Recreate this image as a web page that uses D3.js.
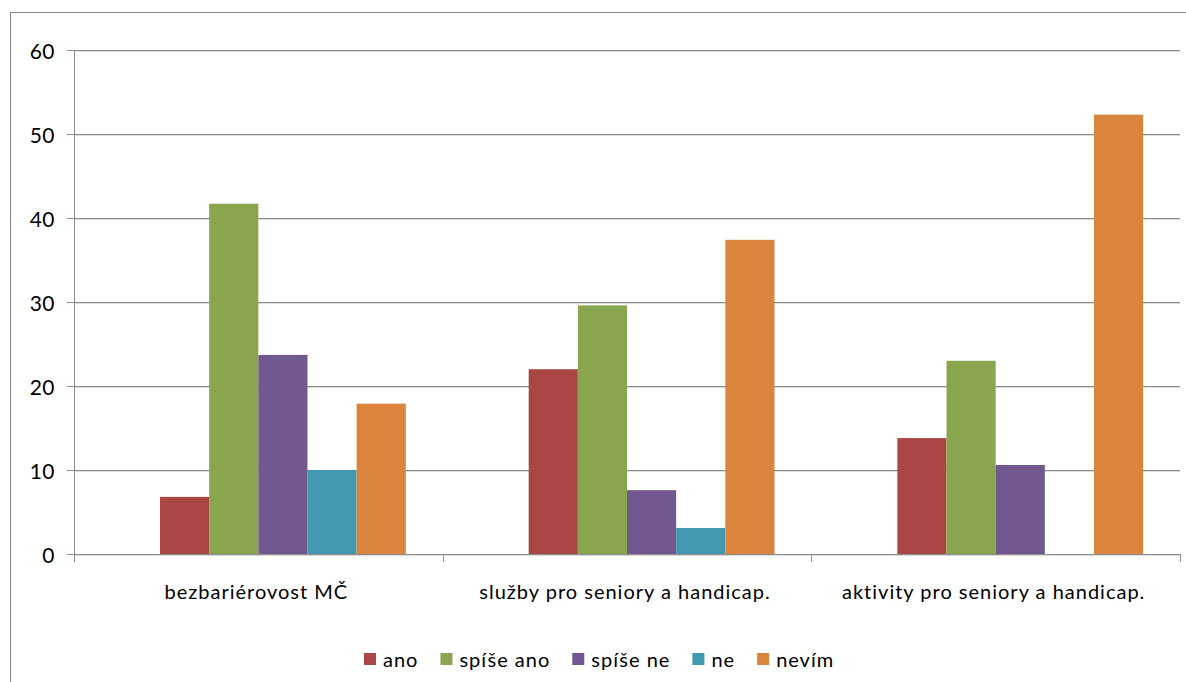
<!DOCTYPE html>
<html>
<head>
<meta charset="utf-8">
<script src="https://cdn.jsdelivr.net/npm/d3@7"></script>
<style>
  html, body { margin: 0; padding: 0; background: #fff; }
  svg { display: block; }
  text { font-family: Lato, "Open Sans", sans-serif; fill: #000; }
</style>
</head>
<body>
<svg id="chart" width="1186" height="682"></svg>
<script>
// ---- data ----
const categories = ["bezbariérovost MČ", "služby pro seniory a handicap.", "aktivity pro seniory a handicap."];
// the source chart reserves a first (empty) series slot in each group
const seriesNames = ["", "ano", "spíše ano", "spíše ne", "ne", "nevím"];
const valuesBlank    = [null, null, null];
const valuesAno      = [6.8, 22.0, 13.8];
const valuesSpiseAno = [41.7, 29.6, 23.0];
const valuesSpiseNe  = [23.7, 7.6, 10.6];
const valuesNe       = [10.0, 3.1, 0];
const valuesNevim    = [17.9, 37.4, 52.3];
const seriesValues = [valuesBlank, valuesAno, valuesSpiseAno, valuesSpiseNe, valuesNe, valuesNevim];
const seriesColors = ["none", "#AA4643", "#89A54E", "#71588F", "#4198AF", "#DB843D"];
const yTicks = [0, 10, 20, 30, 40, 50, 60];

// ---- layout ----
const svg = d3.select("#chart");
const plot = { left: 74, right: 1180, top: 50, bottom: 554 };
const FS = 20;

// outer chart frame (extends past the picture on right/bottom)
svg.append("rect")
  .attr("x", 10.5).attr("y", 12.5)
  .attr("width", 1200).attr("height", 700)
  .attr("fill", "none").attr("stroke", "#868686").attr("stroke-width", 1);

const y = d3.scaleLinear().domain([0, 60]).range([plot.bottom, plot.top]);
const x0 = d3.scaleBand().domain(categories).range([plot.left, plot.right])
  .paddingInner(0.2).paddingOuter(0.1);
const x1 = d3.scaleBand().domain(seriesNames.map((d, i) => i)).range([0, x0.bandwidth()]);

// gridlines + y ticks
const gGrid = svg.append("g");
yTicks.forEach(t => {
  gGrid.append("line")
    .attr("x1", plot.left - 7).attr("x2", plot.right)
    .attr("y1", Math.round(y(t)) + 0.5).attr("y2", Math.round(y(t)) + 0.5)
    .attr("stroke", "#8c8c8c").attr("stroke-width", 1);
  gGrid.append("line")
    .attr("x1", plot.left).attr("x2", plot.right)
    .attr("y1", Math.round(y(t)) + 1.5).attr("y2", Math.round(y(t)) + 1.5)
    .attr("stroke", "#dcdcdc").attr("stroke-width", 1);
});

// y-axis labels via d3 axis
const yAxis = svg.append("g")
  .attr("transform", `translate(${plot.left},0)`)
  .call(d3.axisLeft(y).tickValues(yTicks).tickSize(0).tickPadding(19));
yAxis.select(".domain").remove();
yAxis.selectAll("text")
  .attr("font-family", "Lato, sans-serif")
  .attr("font-size", FS + 1).attr("letter-spacing", "0.5px")
  .attr("dy", "0.42em").attr("fill", "#000");

// bars
seriesValues.forEach((vals, si) => {
  if (seriesColors[si] === "none") return;
  svg.append("g").selectAll("rect")
    .data(vals.map((v, ci) => ({ v, c: categories[ci] })))
    .join("rect")
    .filter(d => d.v != null && d.v > 0)
    .attr("x", d => x0(d.c) + x1(si))
    .attr("width", x1.bandwidth())
    .attr("y", d => y(d.v))
    .attr("height", d => y(0) - y(d.v))
    .attr("fill", seriesColors[si]);
});

// x axis line + category ticks
const xAxisY = Math.round(y(0)) + 0.5;
svg.append("line")
  .attr("x1", plot.left).attr("x2", plot.right)
  .attr("y1", xAxisY).attr("y2", xAxisY)
  .attr("stroke", "#8c8c8c");
// y axis line
svg.append("line")
  .attr("x1", plot.left + 0.5).attr("x2", plot.left + 0.5)
  .attr("y1", plot.top).attr("y2", plot.bottom + 8)
  .attr("stroke", "#8c8c8c");
const step = x0.step();
categories.forEach((c, i) => {
  const bx = Math.round(plot.left + step * (i + 1)) + 0.5;
  svg.append("line")
    .attr("x1", bx).attr("x2", bx)
    .attr("y1", plot.bottom).attr("y2", plot.bottom + 8)
    .attr("stroke", "#8c8c8c");
});

// category labels
svg.append("g").selectAll("text")
  .data(categories).join("text")
  .attr("x", d => x0(d) + x0.bandwidth() / 2 - 2)
  .attr("y", 599)
  .attr("text-anchor", "middle")
  .attr("font-size", FS)
  .attr("letter-spacing", "1px")
  .text(d => d);

// legend
const legendItems = seriesNames.map((n, i) => ({ n, c: seriesColors[i] })).filter(d => d.n !== "");
const lg = svg.append("g");
let lx = 364;
legendItems.forEach(d => {
  lg.append("rect").attr("x", lx).attr("y", 653).attr("width", 12).attr("height", 12).attr("fill", d.c);
  const t = lg.append("text").attr("x", lx + 19).attr("y", 667)
    .attr("font-size", FS).attr("letter-spacing", "1px").text(d.n);
  lx += 19 + t.node().getComputedTextLength() + 22;
});
</script>
</body>
</html>
